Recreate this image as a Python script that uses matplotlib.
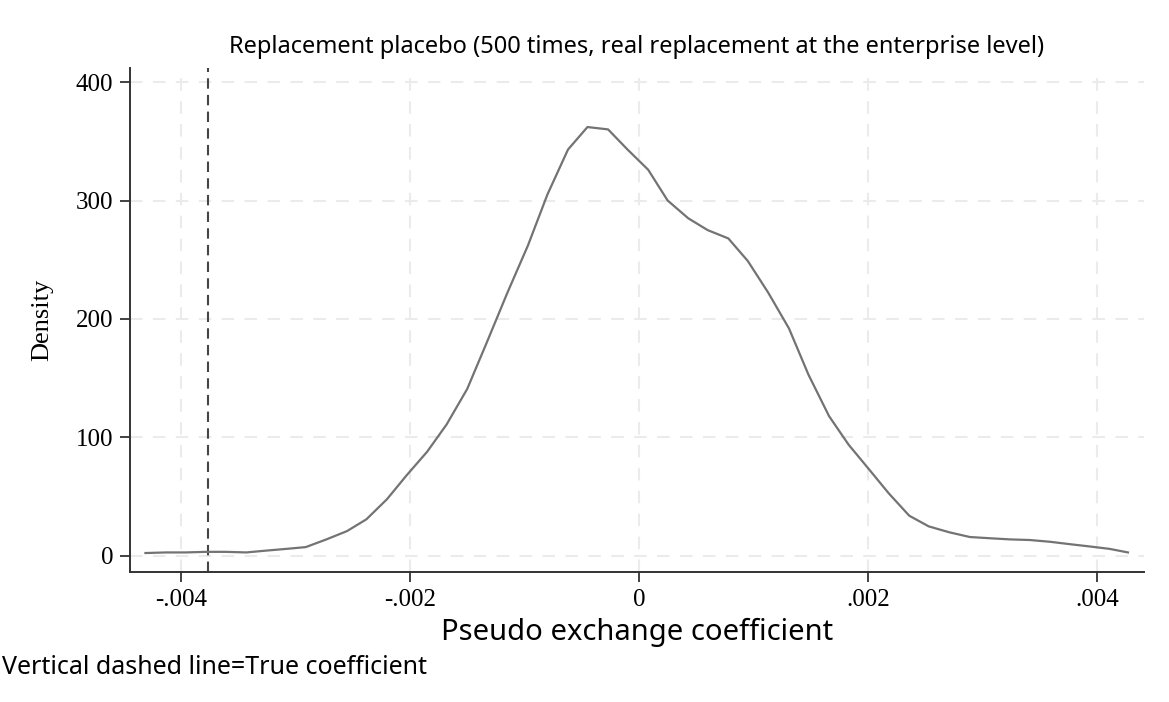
import matplotlib
matplotlib.use("Agg")
import matplotlib.pyplot as plt

# kernel density of 500 placebo coefficients
coef = [-0.00431, -0.00413, -0.00396, -0.00378, -0.00361, -0.00343, -0.00326, -0.00308,
        -0.00291, -0.00273, -0.00255, -0.00238, -0.00220, -0.00203, -0.00185, -0.00168,
        -0.00150, -0.00133, -0.00115, -0.00097, -0.00080, -0.00062, -0.00045, -0.00027,
        -0.00010, 0.00008, 0.00025, 0.00043, 0.00060, 0.00078, 0.00095, 0.00113,
        0.00131, 0.00148, 0.00166, 0.00183, 0.00201, 0.00218, 0.00236, 0.00253,
        0.00271, 0.00289, 0.00306, 0.00324, 0.00341, 0.00359, 0.00376, 0.00394,
        0.00411, 0.00427]
density = [2.5, 3, 3, 3.5, 3.5, 3, 4.5, 6, 7.5, 14,
           21, 31, 48, 68, 88, 111, 141, 180, 222, 262,
           305, 343, 362, 360, 343, 326, 300, 285, 275, 268,
           249, 222, 192, 153, 118, 94, 73, 53, 34, 25,
           20, 16, 15, 14, 13.5, 12, 10, 8, 6, 3]
true_coef = -0.00376

xticks = [-0.004, -0.002, 0, 0.002, 0.004]
xtick_labels = ["-.004", "-.002", "0", ".002", ".004"]
yticks = [0, 100, 200, 300, 400]

fig = plt.figure(figsize=(11.69, 7.02), dpi=100)
ax = fig.add_axes([0.1112, 0.1852, 0.8674, 0.7179])

ax.plot(coef, density, color="#737373", lw=1.6, zorder=3)
ax.axvline(true_coef, color="#454545", lw=1.5, ls=(0, (5, 3)), zorder=2)

ax.set_xlim(-0.004445, 0.00441)
ax.set_ylim(-13.5, 411.8)
ax.set_xticks(xticks)
ax.set_xticklabels(xtick_labels)
ax.set_yticks(yticks)

serif = ["Liberation Serif", "DejaVu Serif"]
for lab in ax.get_xticklabels() + ax.get_yticklabels():
    lab.set_family(serif)
    lab.set_fontsize(18)

ax.grid(True, color="#ebebeb", lw=1.5, ls=(0, (6, 5)), zorder=0)
for s in ["top", "right"]:
    ax.spines[s].set_visible(False)
for s in ["left", "bottom"]:
    ax.spines[s].set_color("#333333")
    ax.spines[s].set_linewidth(1.4)
ax.tick_params(direction="out", length=7, width=1.3, color="#333333", pad=5)

ax.set_title("Replacement placebo (500 times, real replacement at the enterprise level)",
             family="Noto Sans", fontsize=17, pad=11)
ax.set_xlabel("Pseudo exchange coefficient", family="Noto Sans", fontsize=21, labelpad=5)
ax.set_ylabel("Density", family=serif, fontsize=19, labelpad=16)
fig.text(0.002, 0.04, "Vertical dashed line=True coefficient", family="Noto Sans", fontsize=18)

fig.savefig("out.png", dpi=100)
